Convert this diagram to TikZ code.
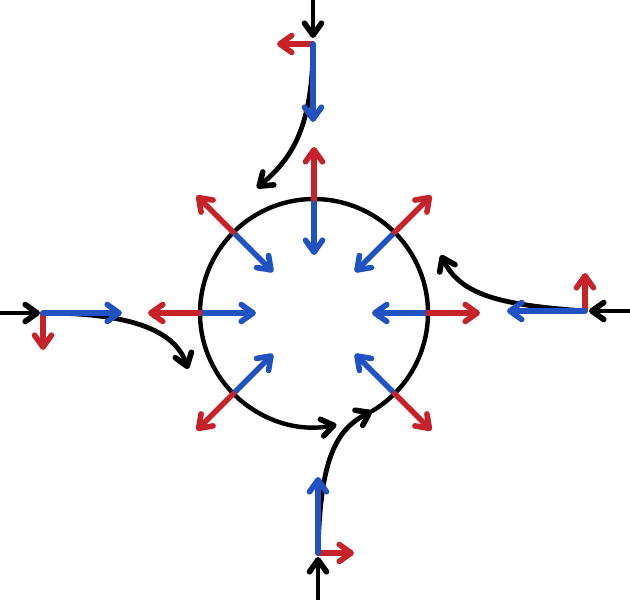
\documentclass[tikz,border=0pt]{standalone}
\usetikzlibrary{arrows.meta,calc}
\definecolor{vred}{RGB}{197,34,42}
\definecolor{vblue}{RGB}{33,82,194}
\begin{document}
\begin{tikzpicture}[x=1pt,y=1pt,
  arr/.style={-{Straight Barb[length=12pt,width=17pt,round,line width=5.6pt]}, line width=5.4pt, line cap=round},
  blk/.style={arr, draw=black, line width=4.8pt},
  rd/.style={arr, draw=vred},
  bl/.style={arr, draw=vblue}]
\useasboundingbox (0,0) rectangle (630,600);
\coordinate (C) at (314,287);
% anchor points
\coordinate (T) at (313,556);
\coordinate (L) at (43,287);
\coordinate (R) at (585,289);
\coordinate (B) at (318,47);
\coordinate (Ttop) at (313,600);
\coordinate (Lend) at (0,287);
\coordinate (Rend) at (630,289);
\coordinate (Bend) at (318,0);
\coordinate (P) at ($(C)+(-59.4:114)$);
% circle arc with arrow
\draw[blk, line width=4.4pt] (P) arc[start angle=-59.4, end angle=281.4, radius=114];
% radial arrows
\foreach \a in {0,45,90,135,180,225,315}{
  \draw[bl] ($(C)+(\a:114)$) -- ($(C)+(\a:58)$);
  \draw[rd] ($(C)+(\a:114)$) -- ($(C)+(\a:166)$);
}
% top
\draw[blk] (Ttop) -- (313,562);
\draw[blk] (T) .. controls (313,470) and (290,440) .. (257,412);
\draw[rd] (T) -- (277,556);
\draw[bl] (T) -- (313,478);
% left
\draw[blk] (Lend) -- (40,287);
\draw[blk] (L) .. controls (130,287) and (175,270) .. (188,231);
\draw[rd] (L) -- (43,250);
\draw[bl] (L) -- (122,287);
% right
\draw[blk] (Rend) -- (589,289);
\draw[blk] (R) .. controls (500,295) and (460,305) .. (441,345);
\draw[rd] (R) -- (585,327);
\draw[bl] (R) -- (507,289);
% bottom
\draw[blk] (Bend) -- (318,43);
\draw[blk] (B) .. controls (320,140) and (335,170) .. (P);
\draw[rd] (B) -- (354,47);
\draw[bl] (B) -- (318,123);
\end{tikzpicture}
\end{document}
